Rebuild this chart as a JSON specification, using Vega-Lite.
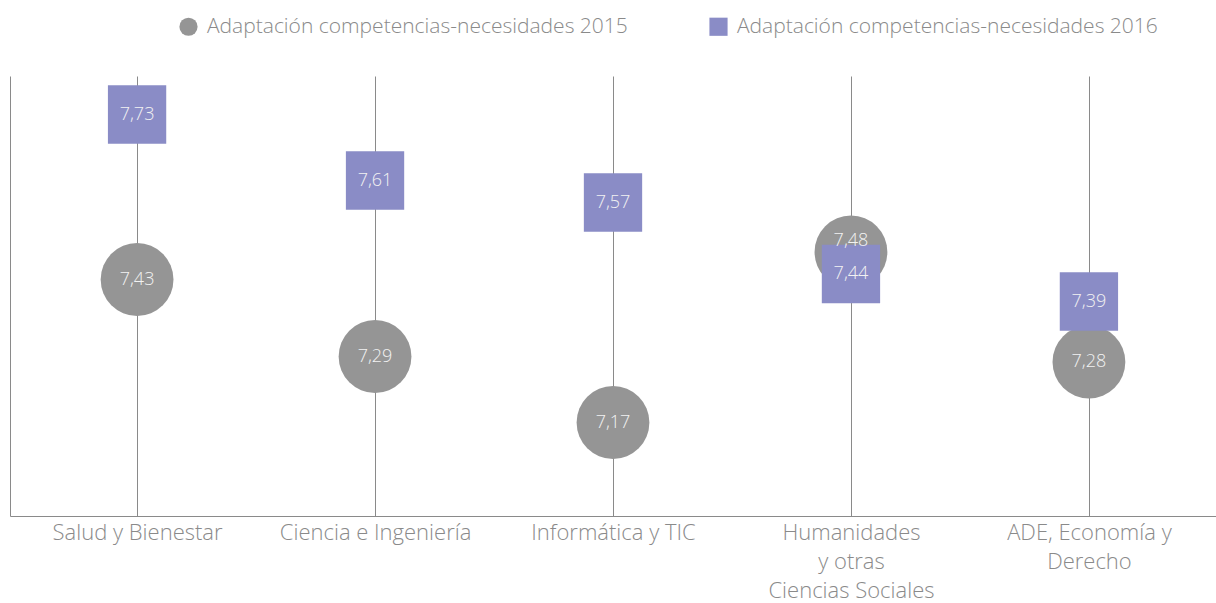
{
  "$schema": "https://vega.github.io/schema/vega-lite/v6.json",
  "width": 1206,
  "height": 440,
  "autosize": {"type": "none"},
  "padding": {"left": 10, "top": 76, "right": 0, "bottom": 87},
  "background": "white",
  "config": {
    "font": "Open Sans",
    "locale": {"number": {"decimal": ",", "thousands": ".", "grouping": [3], "currency": ["", " €"]}},
    "view": {"stroke": null}
  },
  "data": {
    "values": [
      {"area": "Salud y Bienestar", "serie": "Adaptación competencias-necesidades 2015", "valor": 7.43},
      {"area": "Ciencia e Ingeniería", "serie": "Adaptación competencias-necesidades 2015", "valor": 7.29},
      {"area": "Informática y TIC", "serie": "Adaptación competencias-necesidades 2015", "valor": 7.17},
      {"area": "Humanidades y otras Ciencias Sociales", "serie": "Adaptación competencias-necesidades 2015", "valor": 7.48},
      {"area": "ADE, Economía y Derecho", "serie": "Adaptación competencias-necesidades 2015", "valor": 7.28},
      {"area": "Salud y Bienestar", "serie": "Adaptación competencias-necesidades 2016", "valor": 7.73},
      {"area": "Ciencia e Ingeniería", "serie": "Adaptación competencias-necesidades 2016", "valor": 7.61},
      {"area": "Informática y TIC", "serie": "Adaptación competencias-necesidades 2016", "valor": 7.57},
      {"area": "Humanidades y otras Ciencias Sociales", "serie": "Adaptación competencias-necesidades 2016", "valor": 7.44},
      {"area": "ADE, Economía y Derecho", "serie": "Adaptación competencias-necesidades 2016", "valor": 7.39}
    ]
  },
  "encoding": {
    "x": {
      "field": "area",
      "type": "nominal",
      "sort": ["Salud y Bienestar", "Ciencia e Ingeniería", "Informática y TIC", "Humanidades y otras Ciencias Sociales", "ADE, Economía y Derecho"],
      "scale": {"type": "point", "padding": 0.534},
      "axis": {
        "title": null,
        "labelAngle": 0,
        "labelFontSize": 22,
        "labelFontWeight": 300,
        "labelColor": "#8a8a8a",
        "labelLineHeight": 29,
        "labelPadding": 6,
        "labelBaseline": "top",
        "labelLimit": 300,
        "labelExpr": "datum.label == 'Humanidades y otras Ciencias Sociales' ? ['Humanidades', 'y otras', 'Ciencias Sociales'] : datum.label == 'ADE, Economía y Derecho' ? ['ADE, Economía y', 'Derecho'] : datum.label",
        "ticks": false,
        "domainColor": "#8a8a8a",
        "domainWidth": 1,
        "grid": true,
        "gridColor": "#8a8a8a",
        "gridWidth": 1,
        "gridOpacity": 1
      }
    },
    "y": {
      "field": "valor",
      "type": "quantitative",
      "scale": {"domain": [7.0, 7.8], "zero": false, "nice": false},
      "axis": {"title": null, "labels": false, "ticks": false, "grid": false, "domainColor": "#8a8a8a", "domainWidth": 1}
    },
    "color": {
      "field": "serie",
      "type": "nominal",
      "scale": {"range": ["#959595", "#8a8cc6"]},
      "legend": {
        "title": null,
        "orient": "none",
        "legendX": 168,
        "legendY": -60,
        "direction": "horizontal",
        "labelFontSize": 21,
        "labelFontWeight": 300,
        "labelColor": "#8a8a8a",
        "symbolSize": 330,
        "symbolOpacity": 1,
        "symbolStrokeWidth": 0,
        "columnPadding": 80,
        "labelOffset": 8,
        "labelLimit": 500
      }
    },
    "shape": {
      "field": "serie",
      "type": "nominal",
      "scale": {"range": ["circle", "square"]}
    }
  },
  "layer": [
    {
      "transform": [{"filter": "datum.serie == 'Adaptación competencias-necesidades 2015'"}],
      "mark": {"type": "point", "filled": true, "opacity": 1, "size": 5300}
    },
    {
      "transform": [{"filter": "datum.serie == 'Adaptación competencias-necesidades 2016'"}],
      "mark": {"type": "point", "filled": true, "opacity": 1, "size": 3400}
    },
    {
      "transform": [{"filter": "!(datum.area == 'Humanidades y otras Ciencias Sociales' && datum.valor == 7.48)"}],
      "mark": {"type": "text", "fontSize": 18, "fontWeight": 300, "baseline": "middle", "align": "center"},
      "encoding": {"text": {"field": "valor", "type": "quantitative", "format": ".2f"}, "color": {"value": "#f2f2f2"}, "shape": null}
    },
    {
      "transform": [{"filter": "datum.area == 'Humanidades y otras Ciencias Sociales' && datum.valor == 7.48"}],
      "mark": {"type": "text", "fontSize": 18, "fontWeight": 300, "baseline": "middle", "align": "center", "dy": -11},
      "encoding": {"text": {"field": "valor", "type": "quantitative", "format": ".2f"}, "color": {"value": "#f2f2f2"}, "shape": null}
    }
  ]
}
